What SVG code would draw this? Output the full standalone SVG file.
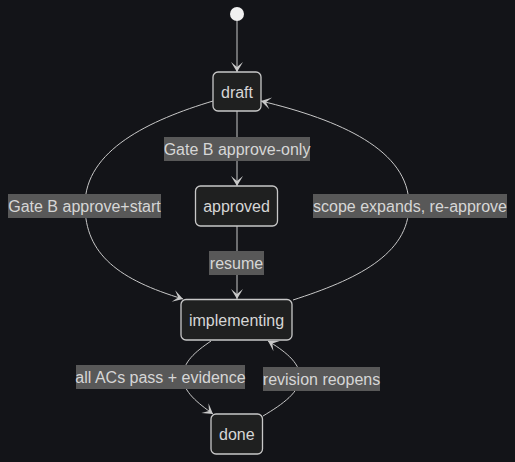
<svg xmlns="http://www.w3.org/2000/svg" width="515" height="462" viewBox="0 0 515 462">
<style>
.node rect{fill:#1f2020;stroke:#c8c8c8;stroke-width:1.3}
text{font-family:"Liberation Sans",Arial,sans-serif;font-size:16px;fill:#d6d6d6;text-anchor:middle;dominant-baseline:central}
.lbl rect{fill:#585858}
.edges path{fill:none;stroke:#c8c8c8;stroke-width:1}
</style>
<defs>
<marker id="barb" viewBox="0 0 20 14" refX="19" refY="7" markerWidth="20" markerHeight="14" markerUnits="userSpaceOnUse" orient="auto">
<path d="M19,7 L9,13 L14,7 L9,1 Z" fill="#c8c8c8"/>
</marker>
</defs>
<rect width="515" height="462" fill="#131418"/>
<g id="edges" class="edges">
<path d="M237,21 L237,72" marker-end="url(#barb)"/>
<path d="M237,111 L237,186" marker-end="url(#barb)"/>
<path d="M237,226 L237,299" marker-end="url(#barb)"/>
<path d="M213,101 C150,120 85,150 85,205 C85,255 120,280 183,299" marker-end="url(#barb)"/>
<path d="M293,300 C355,280 409,255 409,205 C409,150 340,120 261,101" marker-end="url(#barb)"/>
<path d="M211,341 C195,352 183,362 183,377 C183,392 198,403 213,414" marker-end="url(#barb)"/>
<path d="M263,416 C283,404 300,392 300,377 C300,362 283,350 268,341" marker-end="url(#barb)"/>
</g>
<g id="edge-labels">
<g class="lbl"><rect x="164" y="137" width="146" height="24"/><text x="237" y="149">Gate B approve-only</text></g>
<g class="lbl"><rect x="8" y="194" width="153" height="24"/><text x="84.5" y="206">Gate B approve+start</text></g>
<g class="lbl"><rect x="313" y="194" width="194" height="24"/><text x="410" y="206">scope expands, re-approve</text></g>
<g class="lbl"><rect x="209" y="251" width="55" height="24"/><text x="236.5" y="263">resume</text></g>
<g class="lbl"><rect x="76" y="365" width="169" height="24"/><text x="160.5" y="377">all ACs pass + evidence</text></g>
<g class="lbl"><rect x="263" y="367" width="117" height="24"/><text x="321.5" y="379">revision reopens</text></g>
</g>
<g id="start"><circle cx="237" cy="14" r="7" fill="#f0f0f0"/></g>
<g id="draft" class="node"><rect x="213" y="72" width="48" height="39" rx="5"/><text x="237" y="92">draft</text></g>
<g id="approved" class="node"><rect x="195.5" y="186" width="82" height="40" rx="5"/><text x="236.5" y="206">approved</text></g>
<g id="implementing" class="node"><rect x="181" y="299.5" width="111" height="40.5" rx="5"/><text x="236.5" y="320">implementing</text></g>
<g id="done" class="node"><rect x="211" y="414" width="51.5" height="40" rx="5"/><text x="236.8" y="434">done</text></g>
</svg>
